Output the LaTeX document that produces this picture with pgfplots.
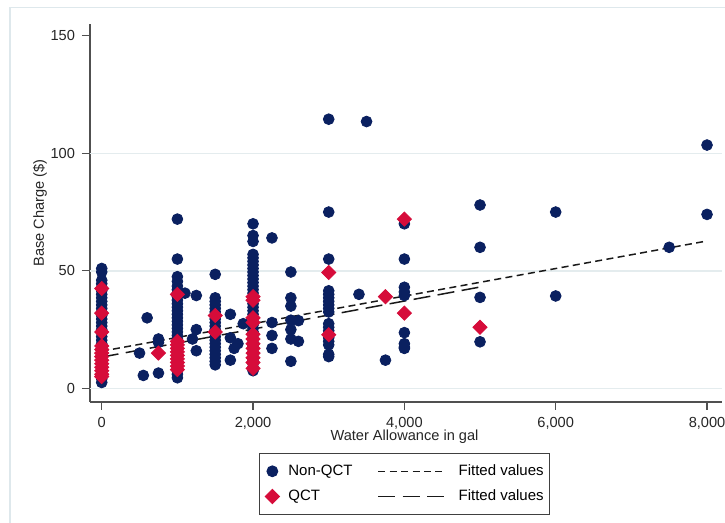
\documentclass[border=0pt]{standalone}
\usepackage{pgfplots}
\pgfplotsset{compat=1.18}
\usepackage{fontspec}
\setmainfont{Liberation Sans}
\definecolor{qnavy}{RGB}{10,32,96}
\definecolor{qred}{RGB}{214,12,58}
\definecolor{gridc}{RGB}{228,236,238}
\definecolor{framec}{RGB}{222,232,236}
\definecolor{axc}{RGB}{80,80,80}
\pgfplotsset{
 markleg/.style={legend image code/.code={\path[draw=none,fill=none] (-2.85pt,-6.3pt) rectangle (8pt,6.3pt); \draw[mark repeat=2,mark phase=2,##1] plot coordinates {(-1pt,0pt)(0pt,0pt)(1pt,0pt)};}},
 lineleg/.style={legend image code/.code={\path[draw=none,fill=none] (0pt,-6.3pt) rectangle (53.05pt,6.3pt); \draw[##1] (12.9pt,0pt) -- (46.05pt,0pt);}},
}
\begin{document}
\begin{tikzpicture}
\useasboundingbox (0,0) rectangle (362.5pt,261.5pt);
\fill[white] (0,0) rectangle (362.5pt,261.5pt);
\draw[framec, line width=0.6pt] (5pt,0pt) -- (5pt,257.8pt) -- (362.5pt,257.8pt);
\begin{axis}[
 at={(45pt,60.5pt)}, anchor=south west, scale only axis, width=316pt, height=189pt,
 xmin=-155, xmax=8198, ymin=-5.8, ymax=155,
 axis x line*=bottom, axis y line*=left,
 axis line style={axc, line width=0.7pt, -},
 tick style={axc, line width=0.6pt},
 tick align=outside, major tick length=4pt,
 xtick={0,2000,4000,6000,8000}, ytick={0,50,100,150},
 scaled x ticks=false,
 /pgf/number format/1000 sep={,},
 /pgf/number format/assume math mode=true,
 tick label style={font=\fontsize{7.3}{8}\selectfont, text=black!85},
 extra y ticks={0,50,100}, extra y tick labels={},
 extra y tick style={ymajorgrids=true, major tick length=0pt},
 major grid style={gridc, line width=0.7pt},
 xlabel={Water Allowance in gal}, ylabel={Base Charge (\$)},
 label style={font=\fontsize{7.3}{8}\selectfont, text=black!85},
 xlabel style={at={(axis description cs:0.4976,-0.0926)}, anchor=center},
 ylabel style={at={(axis description cs:-0.0791,0.5)}, anchor=center},
 legend columns=2,
 legend style={at={(axis description cs:0.4976,-0.1349)}, anchor=north, draw=black!75, line width=0.5pt, fill=white, inner xsep=3pt, inner ysep=2.6pt, column sep=0pt, row sep=0pt, font=\fontsize{7.5}{9}\selectfont, nodes={inner sep=0pt, draw=none}},
 legend cell align=left,
]
\addplot[only marks, mark=*, mark size=2.7pt, color=qnavy, forget plot] coordinates {
(0,51) (0,49.5) (0,46) (0,44.5) (0,43) (0,41.5) (0,40) (0,38.5) (0,37) (0,35.5) (0,34) (0,32.5) (0,31) (0,29.5) (0,28) (0,26.5) (0,25) (0,23.5) (0,22) (0,20.5) (0,19) (0,17.5) (0,16) (0,14.5) (0,13) (0,11.5) (0,10) (0,8.5) (0,7) (0,5.5) (0,4) (0,2.5)
(500,15) (550,5.5) (600,30) (750,6.5) (750,21) (750,19.5)
(1000,72) (1000,55) (1000,47.5) (1000,45.5) (1000,43.5) (1000,42) (1000,40.5) (1000,39) (1000,37.5) (1000,36) (1000,34.5) (1000,33) (1000,31.5) (1000,30) (1000,28.5) (1000,27) (1000,25.5) (1000,24) (1000,22.5) (1000,21) (1000,19.5) (1000,18) (1000,16.5) (1000,15) (1000,13.5) (1000,12) (1000,10.5) (1000,9) (1000,7.5) (1000,6) (1000,4.5)
(1100,40.5) (1250,39.5) (1250,25) (1200,21) (1250,16)
(1500,48.5) (1500,38.5) (1500,37) (1500,35.5) (1500,34) (1500,32.5) (1500,31) (1500,29.5) (1500,28) (1500,26.5) (1500,25) (1500,23.5) (1500,22) (1500,20.5) (1500,19) (1500,17.5) (1500,16) (1500,14.5) (1500,13) (1500,11.5) (1500,10)
(1700,31.5) (1700,21.5) (1700,12) (1750,17) (1800,19) (1870,27.5)
(2000,70) (2000,65) (2000,62.5) (2000,57) (2000,55.5) (2000,54) (2000,52.5) (2000,51) (2000,49.5) (2000,48) (2000,46.5) (2000,45) (2000,43.5) (2000,42) (2000,40.5) (2000,39) (2000,37.5) (2000,36) (2000,34.5) (2000,33) (2000,31.5) (2000,30) (2000,28.5) (2000,27) (2000,25.5) (2000,24) (2000,22.5) (2000,21) (2000,19.5) (2000,18) (2000,16.5) (2000,15) (2000,13.5) (2000,12) (2000,10.5) (2000,9) (2000,7.5)
(2250,64) (2250,28) (2250,22.5) (2250,17) (2500,49.5) (2500,38.5) (2500,35) (2500,29) (2500,25) (2500,21) (2500,11.5) (2600,28.8) (2600,20)
(3000,114.5) (3000,75) (3000,55) (3000,41.5) (3000,40) (3000,38.5) (3000,37) (3000,35.5) (3000,34) (3000,32.5) (3000,27.5) (3000,26) (3000,24.5) (3000,23) (3000,21.5) (3000,20) (3000,18.5) (3000,14.5) (3000,13.5)
(3500,113.5) (3400,40) (3750,12)
(4000,70) (4000,55) (4000,43) (4000,41) (4000,39.5) (4000,23.7) (4000,19) (4000,17.5) (4000,17)
(5000,78) (5000,60) (5000,38.7) (5000,19.8)
(6000,75) (6000,39.3) (7500,60) (8000,103.5) (8000,74)
};
\addplot[only marks, mark=square*, mark size=2.5pt, mark options={rotate=45}, color=qred, forget plot] coordinates {
(0,42.5) (0,32) (0,24) (0,18) (0,16.5) (0,15) (0,13.5) (0,12) (0,10.5) (0,9) (0,7.5) (0,6) (0,5)
(750,15)
(1000,40) (1000,20) (1000,18.5) (1000,17) (1000,15.5) (1000,14) (1000,12.5) (1000,11) (1000,9.5) (1000,8)
(1500,31) (1500,24)
(2000,39) (2000,37.5) (2000,30) (2000,28) (2000,23) (2000,21) (2000,19) (2000,17) (2000,15) (2000,13) (2000,11) (2000,8.5)
(3000,49.3) (3000,22.8) (3750,39) (4000,72) (4000,32) (5000,26)
};
\addplot[black!90, line width=0.75pt, dash pattern=on 3.5pt off 2.2pt, forget plot] coordinates {(0,15.8) (8000,62.7)};
\addplot[black!90, line width=0.75pt, dash pattern=on 8.5pt off 3.7pt, forget plot] coordinates {(0,13.3) (5000,43.1)};
\addlegendimage{markleg, only marks, mark=*, mark size=2.7pt, color=qnavy}
\addlegendentry{Non-QCT}
\addlegendimage{lineleg, black!90, line width=0.75pt, dash pattern=on 3.5pt off 2.2pt}
\addlegendentry{Fitted values}
\addlegendimage{markleg, only marks, mark=square*, mark size=2.5pt, mark options={rotate=45}, color=qred}
\addlegendentry{QCT}
\addlegendimage{lineleg, black!90, line width=0.75pt, dash pattern=on 8.5pt off 3.7pt}
\addlegendentry{Fitted values}
\end{axis}
\end{tikzpicture}
\end{document}
